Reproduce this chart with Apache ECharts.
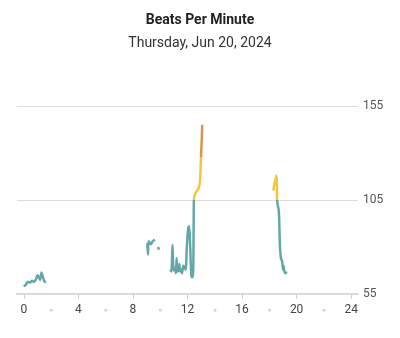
<!DOCTYPE html>
<html><head><meta charset="utf-8">
<script src="https://cdn.jsdelivr.net/npm/echarts@6/dist/echarts.min.js"></script>
<style>html,body{margin:0;padding:0;background:#fff}#c{width:400px;height:338px}</style>
</head><body><div id="c"></div>
<script>
const titleText = 'Beats Per Minute';
const subtitleText = 'Thursday, Jun 20, 2024';
const xTickLabels = [0, 4, 8, 12, 16, 20, 24];
const xDotPositions = [2, 6, 10, 14, 18, 22];
const yTickLabels = [55, 105, 155];
// each segment: [hour, bpm]
const seg1 = [[0.0,59],[0.15,60],[0.3,61.5],[0.45,61],[0.6,62],[0.75,61.5],[0.9,63],[1.0,65],[1.1,64],[1.2,62.5],[1.3,66.5],[1.4,64],[1.5,62],[1.6,61]];
const seg2 = [[9.05,82],[9.1,76],[9.15,83],[9.3,81.5],[9.45,83],[9.6,84]];
const seg2b = [[9.85,80],[9.9,78.5]];
const seg3 = [[10.75,68],[10.8,67],[10.85,70],[10.9,81],[10.95,70],[11.0,67.5],[11.1,69],[11.15,66],[11.2,74],[11.25,67],[11.35,67.5],[11.4,71],[11.45,67],[11.55,68],[11.6,66],[11.7,70],[11.85,68],[11.95,80],[12.05,90],[12.12,91],[12.2,80],[12.27,66],[12.33,64],[12.4,64],[12.45,90],[12.47,105],[12.55,108],[12.7,110],[12.8,111],[12.9,114],[12.95,120],[13.0,130],[13.05,138],[13.08,145]];
const seg4 = [[18.3,110],[18.35,113],[18.45,116],[18.52,118],[18.55,113],[18.57,105],[18.62,102],[18.68,100],[18.72,95],[18.78,80],[18.85,74],[18.95,72],[19.0,68],[19.05,70],[19.1,67],[19.2,66],[19.25,67]];

const segments = [seg1, seg2, seg2b, seg3, seg4];
const data = [];
segments.forEach((s, i) => { if (i > 0) data.push([null, null]); s.forEach(p => data.push(p)); });

const chart = echarts.init(document.getElementById('c'));
chart.setOption({
  animation: false,
  textStyle: { fontFamily: 'Roboto' },
  title: [
    { text: titleText, left: 'center', top: 8, textStyle: { fontFamily: 'Roboto', fontWeight: 'bold', fontSize: 14, color: '#222' } },
    { text: subtitleText, left: 'center', top: 31, textStyle: { fontFamily: 'Roboto', fontWeight: 'normal', fontSize: 14, color: '#333' } }
  ],
  grid: { left: 17, right: 42, top: 106, bottom: 44 },
  visualMap: {
    show: false, type: 'piecewise', dimension: 1,
    pieces: [
      { lte: 105, color: '#62a8a6' },
      { gt: 105, lte: 128, color: '#f2c83a' },
      { gt: 128, color: '#d9964a' }
    ]
  },
  xAxis: {
    type: 'value', min: -0.5, max: 24.5,
    splitLine: { show: false },
    axisLine: { show: true, lineStyle: { color: '#d9d9d9', width: 2 } },
    axisTick: { show: true, customValues: xTickLabels, length: 5, lineStyle: { color: '#d0d0d0', width: 1 } },
    axisLabel: {
      customValues: xTickLabels.concat(xDotPositions),
      margin: 10, color: '#444', fontSize: 12,
      formatter: v => (xDotPositions.indexOf(v) >= 0 ? '{d|●}' : String(v)),
      rich: { d: { color: '#d4d4d4', fontSize: 7, padding: [3, 0, 0, 0] } }
    }
  },
  yAxis: {
    type: 'value', position: 'right', min: 55, max: 155, interval: 50,
    axisLine: { show: false },
    axisTick: { show: false },
    axisLabel: { color: '#555', fontSize: 12, margin: 5 },
    splitLine: { show: true, lineStyle: { color: '#dcdcdc', width: 1 } }
  },
  series: [{
    type: 'line', data: data, showSymbol: false, connectNulls: false, smooth: 0.3,
    lineStyle: { width: 2.5 }
  }]
});
</script></body></html>
